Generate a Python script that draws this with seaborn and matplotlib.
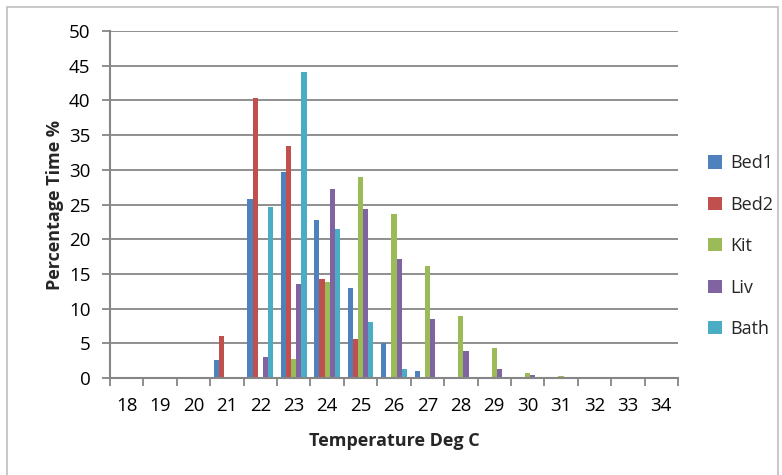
import numpy as np
import pandas as pd
import matplotlib
matplotlib.use("Agg")
import matplotlib.pyplot as plt
import seaborn as sns
from matplotlib.patches import Rectangle

temps = [18, 19, 20, 21, 22, 23, 24, 25, 26, 27, 28, 29, 30, 31, 32, 33, 34]
bed1 = [0, 0, 0, 2.6, 25.8, 29.7, 22.8, 13.0, 5.0, 1.0, 0, 0, 0, 0, 0, 0, 0]
bed2 = [0, 0, 0.1, 6.1, 40.3, 33.4, 14.2, 5.6, 0, 0, 0, 0, 0, 0, 0, 0, 0]
kit = [0, 0, 0, 0, 0, 2.8, 13.9, 28.9, 23.7, 16.1, 8.9, 4.3, 0.7, 0.25, 0, 0, 0]
liv = [0, 0, 0, 0, 3.0, 13.6, 27.2, 24.4, 17.1, 8.5, 3.85, 1.3, 0.4, 0.2, 0, 0, 0]
bath = [0, 0, 0, 0, 24.7, 44.1, 21.4, 8.1, 1.3, 0, 0, 0, 0, 0, 0, 0, 0]
series_names = ["Bed1", "Bed2", "Kit", "Liv", "Bath"]
colors = ["#4F81BD", "#C0504D", "#9BBB59", "#8064A2", "#4BACC6"]

rows = []
for name, vals in zip(series_names, [bed1, bed2, kit, liv, bath]):
    for t, v in zip(temps, vals):
        rows.append({"Temp": str(t), "Room": name, "Pct": v})
df = pd.DataFrame(rows)

sns.set_theme(style="white")
plt.rcParams['font.family'] = ['Open Sans', 'DejaVu Sans']

fig = plt.figure(figsize=(7.82, 4.75), dpi=100)
ax = fig.add_axes([110/782, 1-378/475, (678-110)/782, (378-31)/475])

sns.barplot(data=df, x="Temp", y="Pct", hue="Room", order=[str(t) for t in temps],
            hue_order=series_names, palette=colors, width=0.77, linewidth=0,
            saturation=1, ax=ax, legend=True)

ax.set_ylim(0, 50)
ax.set_xlim(-0.5, len(temps) - 0.5)
ax.set_yticks(np.arange(0, 51, 5))
ax.yaxis.grid(True, color="#868686", linewidth=1.3)
ax.set_axisbelow(True)
for s in ["top", "right"]:
    ax.spines[s].set_visible(False)
for s in ["left", "bottom"]:
    ax.spines[s].set_color("#868686")
    ax.spines[s].set_linewidth(1.5)

ax.set_xticks(np.arange(-0.5, len(temps), 1), minor=True)
ax.tick_params(axis="x", which="major", length=0, labelsize=13.5, pad=14, colors="black")
ax.tick_params(axis="x", which="minor", length=6, width=1.3, color="#868686", bottom=True)
ax.tick_params(axis="y", which="major", length=6, width=1.3, color="#868686", left=True,
               labelsize=13.5, pad=8, labelcolor="black")

ax.set_xlabel("Temperature Deg C", fontsize=13, fontweight="bold", labelpad=12)
ax.set_ylabel("Percentage Time %", fontsize=13, fontweight="bold", labelpad=4)

handles, labels = ax.get_legend_handles_labels()
ax.get_legend().remove()
fig.legend(handles, labels, loc="upper left", bbox_to_anchor=(701/782, 1-147/475),
           frameon=False, fontsize=13, labelspacing=1.3, handlelength=0.75,
           handleheight=0.75, handletextpad=0.45, borderaxespad=0)

fig.patches.append(Rectangle((7/782, -0.05), (778-7)/782, 1.05 - 7/475,
                             transform=fig.transFigure, fill=False,
                             edgecolor="#bfbfbf", linewidth=1.2))

fig.savefig("out.png", dpi=100)
